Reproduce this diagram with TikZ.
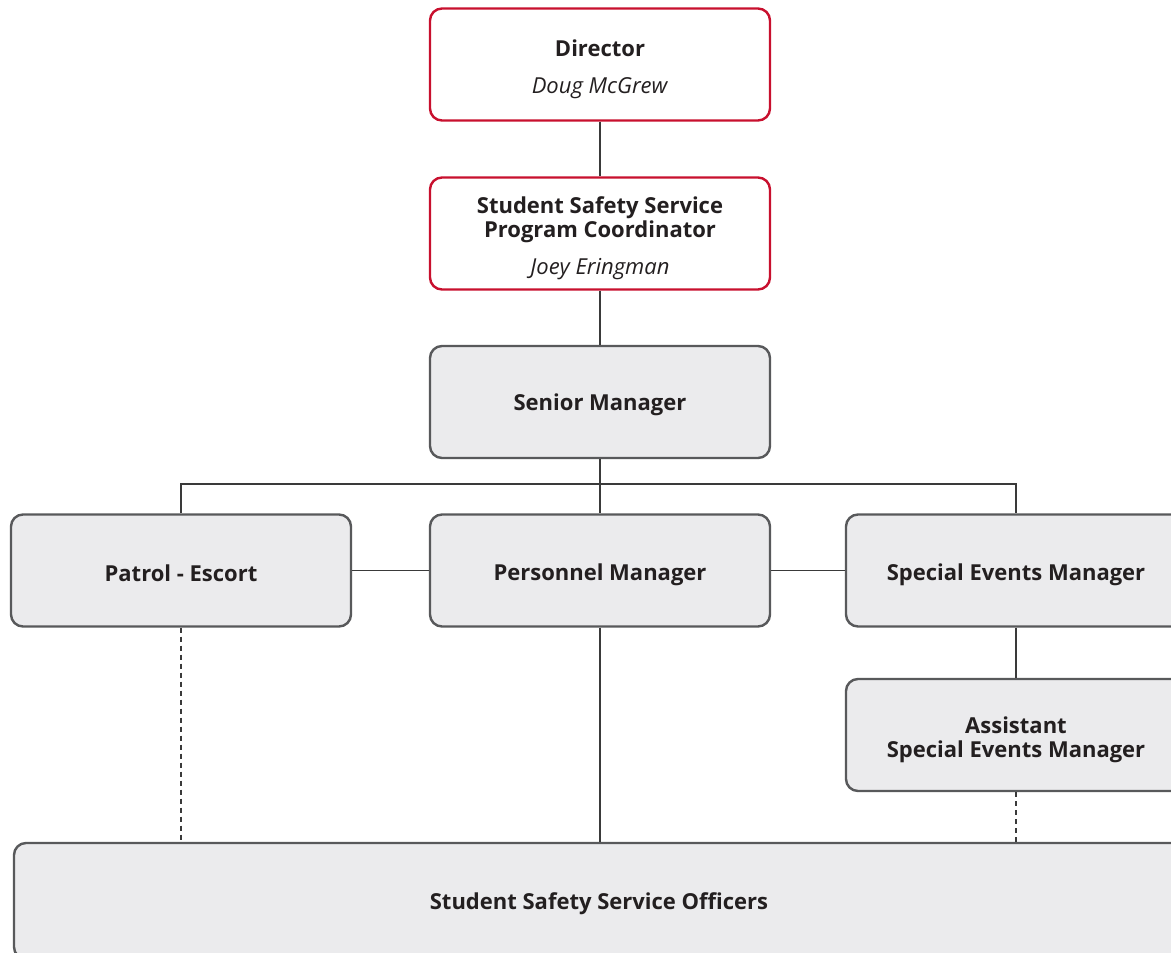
\documentclass[tikz,border=0pt]{standalone}
\usepackage{fontspec}
\setmainfont{Open Sans}
\definecolor{boxred}{HTML}{C8102E}
\definecolor{boxgray}{HTML}{EBEBED}
\definecolor{boxline}{HTML}{58595B}
\definecolor{linkline}{HTML}{3A3A3A}
\definecolor{inktext}{HTML}{231F20}
\tikzset{
  chief/.style={draw=boxred, fill=white, line width=2.4pt, rounded corners=12pt, text=inktext,
    minimum width=340pt, minimum height=112pt, align=center, font=\fontsize{22}{24}\selectfont},
  staff/.style={draw=boxline, fill=boxgray, line width=2.4pt, rounded corners=12pt, text=inktext,
    minimum width=340pt, minimum height=112pt, align=center, font=\fontsize{22}{24}\selectfont\bfseries,
    execute at begin node={\rule{0pt}{22pt}}},
  link/.style={draw=linkline, line width=1.3pt},
  duty/.style={link, dash pattern=on 5pt off 4pt}
}
\begin{document}
\begin{tikzpicture}[x=1pt,y=-1pt]
\useasboundingbox (0,0) rectangle (1171,953);
% top of the chart
\node[chief] (dir) at (600,64.5) {\rule{0pt}{27pt}\textbf{Director}\\[13pt]\textit{Doug McGrew}};
\node[chief] (coord) at (600,233.5) {\rule{0pt}{27pt}\textbf{Student Safety Service}\\\textbf{Program Coordinator}\\[13pt]\textit{Joey Eringman}};
\node[staff] (senior) at (600,402) {Senior Manager};
% managers
\node[staff] (patrol) at (181,570.5) {Patrol - Escort};
\node[staff] (personnel) at (600,570.5) {\rule{0pt}{25pt}Personnel Manager};
\node[staff] (events) at (1016,570.5) {\rule{0pt}{25pt}Special Events Manager};
\node[staff] (asst) at (1016,735) {\rule{0pt}{26pt}Assistant\\Special Events Manager};
\node[staff, minimum width=1170pt, minimum height=116pt] (officers) at (599,901) {Student Safety Service Officers};
\coordinate (bus) at (600,484);
% connectors
\draw[link] (dir) -- (coord);
\draw[link] (coord) -- (senior);
\draw[link] (senior) -- (bus);
\draw[link] (patrol.north) |- (bus) -| (events.north);
\draw[link] (bus) -- (personnel);
\draw[link] (patrol) -- (personnel);
\draw[link] (personnel) -- (events);
\draw[link] (events) -- (asst);
\draw[link] (personnel.south) -- (personnel.south |- officers.north);
\draw[duty] (patrol.south) -- (patrol.south |- officers.north);
\draw[duty] (asst.south) -- (asst.south |- officers.north);
\end{tikzpicture}
\end{document}
